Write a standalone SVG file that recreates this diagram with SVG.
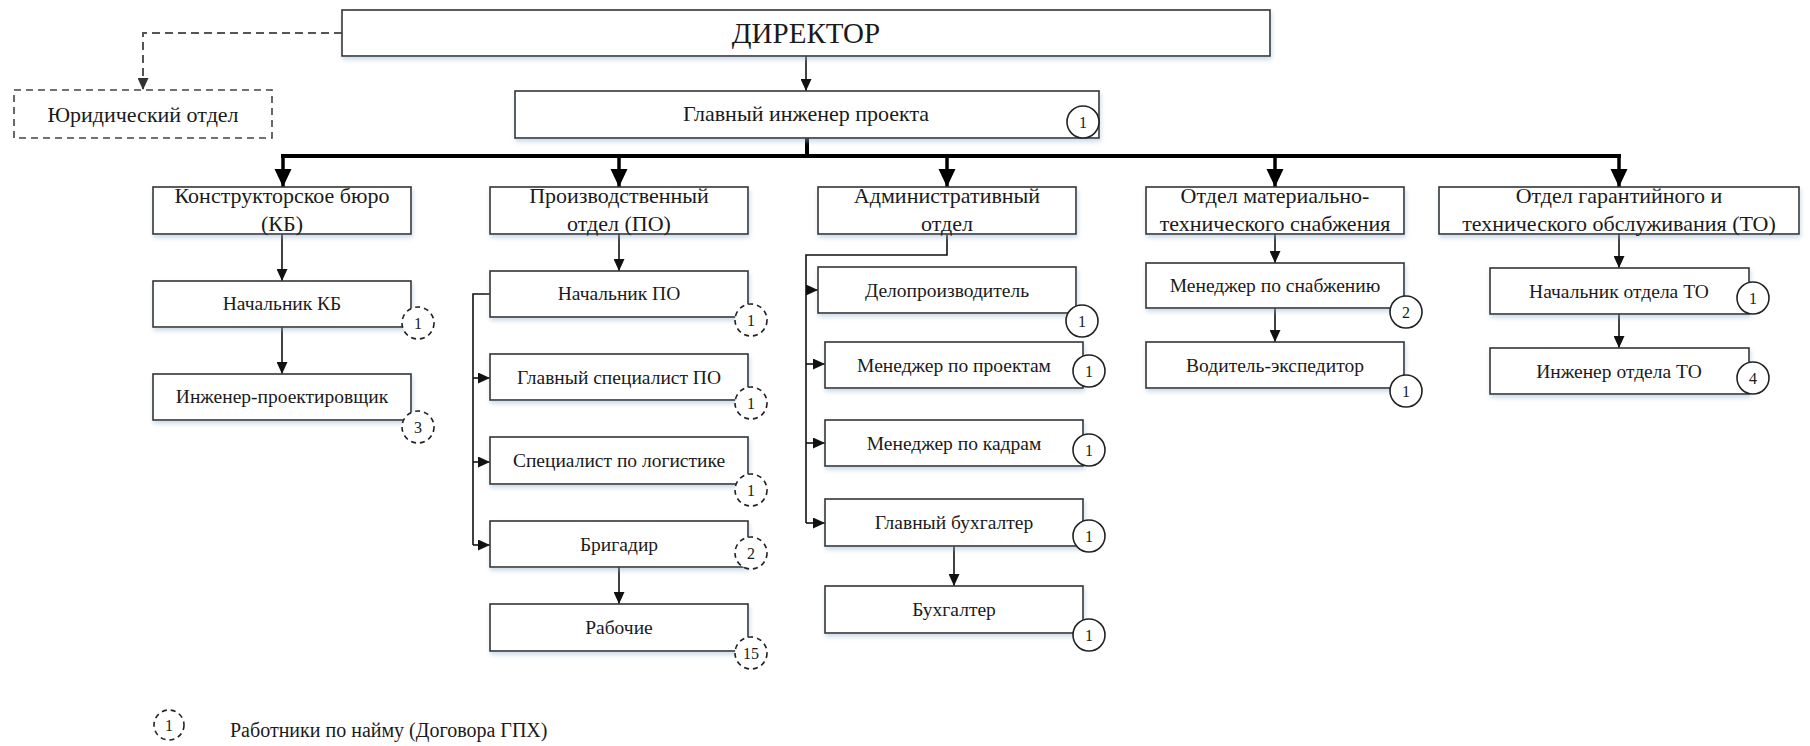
<svg xmlns="http://www.w3.org/2000/svg" width="1810" height="746" viewBox="0 0 1810 746" font-family="'Liberation Serif', 'Times New Roman', serif">
<defs>
<style>
.box{fill:#fff;stroke:#333;stroke-width:1.6;filter:url(#sh)}
.dbox{fill:#fff;stroke:#444;stroke-width:1.6;stroke-dasharray:7 5}
text{font-family:'Liberation Serif','Times New Roman',serif;fill:#1a1a1a;text-anchor:middle}
.t1{font-size:29px}
.t2{font-size:22px}
.t3{font-size:19.5px}
.bd{font-size:16px}
.lg{font-size:20px;text-anchor:start}
.ln{fill:none;stroke:#111;stroke-width:1.6}
.thk{fill:none;stroke:#000;stroke-width:4}
.drop{fill:none;stroke:#000;stroke-width:3.5;marker-end:url(#big)}
.arr{fill:none;stroke:#111;stroke-width:1.6;marker-end:url(#sm)}
.dash{fill:none;stroke:#555;stroke-width:2;stroke-dasharray:8 5;marker-end:url(#smg)}
.cs{fill:#fff;stroke:#222;stroke-width:1.6}
.cd{fill:#fff;stroke:#222;stroke-width:1.6;stroke-dasharray:5 4}
</style>
<filter id="sh" x="-5%" y="-20%" width="110%" height="150%">
<feDropShadow dx="1" dy="3" stdDeviation="2" flood-color="#8fb0d0" flood-opacity="0.45"/>
</filter>
<marker id="big" markerUnits="userSpaceOnUse" markerWidth="18" markerHeight="18" refX="18" refY="8.5" orient="auto">
<path d="M0,0 L18,8.5 L0,17 z" fill="#000"/>
</marker>
<marker id="sm" markerUnits="userSpaceOnUse" markerWidth="12" markerHeight="11" refX="12" refY="5.5" orient="auto">
<path d="M0,0 L12,5.5 L0,11 z" fill="#111"/>
</marker>
<marker id="smg" markerUnits="userSpaceOnUse" markerWidth="12" markerHeight="11" refX="12" refY="5.5" orient="auto">
<path d="M0,0 L12,5.5 L0,11 z" fill="#333"/>
</marker>
</defs>

<g id="connectors">
<path class="dash" d="M342,33 H143 V90"/>
<path class="arr" d="M806,56 V91"/>
<path class="thk" d="M807,138 V156"/>
<path class="thk" d="M281,156 H1621"/>
<path class="drop" d="M283,156 V187"/>
<path class="drop" d="M619,156 V187"/>
<path class="drop" d="M947,156 V187"/>
<path class="drop" d="M1275,156 V187"/>
<path class="drop" d="M1619,156 V187"/>
<path class="arr" d="M282,234 V281"/>
<path class="arr" d="M282,327 V374"/>
<path class="arr" d="M619,234 V271"/>
<path class="ln" d="M490,294 H473 V545"/>
<path class="arr" d="M473,378 H490"/>
<path class="arr" d="M473,462 H490"/>
<path class="arr" d="M473,545 H490"/>
<path class="arr" d="M619,567 V604"/>
<path class="ln" d="M947,234 V255 H806 V523"/>
<path class="arr" d="M806,290 H818"/>
<path class="arr" d="M806,364 H825"/>
<path class="arr" d="M806,443 H825"/>
<path class="arr" d="M806,523 H825"/>
<path class="arr" d="M954,546 V586"/>
<path class="arr" d="M1275,234 V263"/>
<path class="arr" d="M1275,308 V342"/>
<path class="arr" d="M1619,234 V268"/>
<path class="arr" d="M1619,314 V348"/>
</g>

<g id="director"><rect class="box" x="342" y="10" width="928" height="46"/><text class="t1" x="806" y="43">ДИРЕКТОР</text></g>
<g id="legal"><rect class="dbox" x="14" y="90" width="258" height="48"/><text class="t2" x="143" y="122">Юридический отдел</text></g>
<g id="chief-engineer"><rect class="box" x="515" y="91" width="584" height="47"/><text class="t2" x="806" y="121">Главный инженер проекта</text><circle class="cs" cx="1083" cy="122" r="16"/><text class="bd" x="1083" y="128">1</text></g>

<g id="kb"><rect class="box" x="153" y="187" width="258" height="47"/><text class="t2" x="282" y="203">Конструкторское бюро</text><text class="t2" x="282" y="231">(КБ)</text></g>
<g id="po"><rect class="box" x="490" y="187" width="258" height="47"/><text class="t2" x="619" y="203">Производственный</text><text class="t2" x="619" y="231">отдел (ПО)</text></g>
<g id="admin"><rect class="box" x="818" y="187" width="258" height="47"/><text class="t2" x="947" y="203">Административный</text><text class="t2" x="947" y="231">отдел</text></g>
<g id="mts"><rect class="box" x="1146" y="187" width="258" height="47"/><text class="t2" x="1275" y="203">Отдел материально-</text><text class="t2" x="1275" y="231">технического снабжения</text></g>
<g id="to"><rect class="box" x="1439" y="187" width="360" height="47"/><text class="t2" x="1619" y="203">Отдел гарантийного и</text><text class="t2" x="1619" y="231">технического обслуживания (ТО)</text></g>

<g id="kb-head"><rect class="box" x="153" y="281" width="258" height="46"/><text class="t3" x="282" y="310">Начальник КБ</text><circle class="cd" cx="418" cy="323" r="16"/><text class="bd" x="418" y="329">1</text></g>
<g id="kb-eng"><rect class="box" x="153" y="374" width="258" height="46"/><text class="t3" x="282" y="403">Инженер-проектировщик</text><circle class="cd" cx="418" cy="427" r="16"/><text class="bd" x="418" y="433">3</text></g>

<g id="po-head"><rect class="box" x="490" y="271" width="258" height="46"/><text class="t3" x="619" y="300">Начальник ПО</text><circle class="cd" cx="751" cy="320" r="16"/><text class="bd" x="751" y="326">1</text></g>
<g id="po-spec"><rect class="box" x="490" y="354" width="258" height="46"/><text class="t3" x="619" y="384">Главный специалист ПО</text><circle class="cd" cx="751" cy="403" r="16"/><text class="bd" x="751" y="409">1</text></g>
<g id="po-log"><rect class="box" x="490" y="437" width="258" height="47"/><text class="t3" x="619" y="467">Специалист по логистике</text><circle class="cd" cx="751" cy="490" r="16"/><text class="bd" x="751" y="496">1</text></g>
<g id="po-brig"><rect class="box" x="490" y="521" width="258" height="46"/><text class="t3" x="619" y="551">Бригадир</text><circle class="cd" cx="751" cy="553" r="16"/><text class="bd" x="751" y="559">2</text></g>
<g id="po-work"><rect class="box" x="490" y="604" width="258" height="47"/><text class="t3" x="619" y="634">Рабочие</text><circle class="cd" cx="751" cy="653" r="16"/><text class="bd" x="751" y="659">15</text></g>

<g id="adm-clerk"><rect class="box" x="818" y="267" width="258" height="46"/><text class="t3" x="947" y="297">Делопроизводитель</text><circle class="cs" cx="1082" cy="321" r="16"/><text class="bd" x="1082" y="327">1</text></g>
<g id="adm-pm"><rect class="box" x="825" y="342" width="258" height="46"/><text class="t3" x="954" y="372">Менеджер по проектам</text><circle class="cs" cx="1089" cy="371" r="16"/><text class="bd" x="1089" y="377">1</text></g>
<g id="adm-hr"><rect class="box" x="825" y="420" width="258" height="46"/><text class="t3" x="954" y="450">Менеджер по кадрам</text><circle class="cs" cx="1089" cy="450" r="16"/><text class="bd" x="1089" y="456">1</text></g>
<g id="adm-chacc"><rect class="box" x="825" y="499" width="258" height="47"/><text class="t3" x="954" y="529">Главный бухгалтер</text><circle class="cs" cx="1089" cy="536" r="16"/><text class="bd" x="1089" y="542">1</text></g>
<g id="adm-acc"><rect class="box" x="825" y="586" width="258" height="47"/><text class="t3" x="954" y="616">Бухгалтер</text><circle class="cs" cx="1089" cy="635" r="16"/><text class="bd" x="1089" y="641">1</text></g>

<g id="mts-mgr"><rect class="box" x="1146" y="263" width="258" height="45"/><text class="t3" x="1275" y="292">Менеджер по снабжению</text><circle class="cs" cx="1406" cy="312" r="16"/><text class="bd" x="1406" y="318">2</text></g>
<g id="mts-drv"><rect class="box" x="1146" y="342" width="258" height="46"/><text class="t3" x="1275" y="372">Водитель-экспедитор</text><circle class="cs" cx="1406" cy="391" r="16"/><text class="bd" x="1406" y="397">1</text></g>

<g id="to-head"><rect class="box" x="1490" y="268" width="259" height="46"/><text class="t3" x="1619" y="298">Начальник отдела ТО</text><circle class="cs" cx="1753" cy="298" r="16"/><text class="bd" x="1753" y="304">1</text></g>
<g id="to-eng"><rect class="box" x="1490" y="348" width="259" height="46"/><text class="t3" x="1619" y="378">Инженер отдела ТО</text><circle class="cs" cx="1753" cy="378" r="16"/><text class="bd" x="1753" y="384">4</text></g>

<g id="legend"><circle class="cd" cx="169" cy="725" r="15"/><text class="bd" x="169" y="731">1</text><text class="lg" x="230" y="737">Работники по найму (Договора ГПХ)</text></g>
</svg>
